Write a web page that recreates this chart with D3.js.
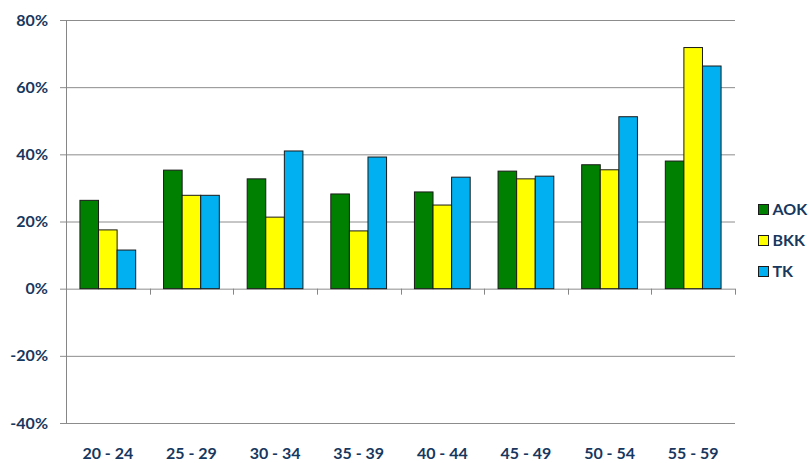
<!DOCTYPE html>
<html>
<head>
<meta charset="utf-8">
<script src="https://cdn.jsdelivr.net/npm/d3@7"></script>
<style>
  body { margin: 0; background: #fff; }
  text { font-family: Lato, "Open Sans", sans-serif; font-weight: bold; fill: #17375E; }
</style>
</head>
<body>
<svg></svg>
<script>
const categories = ["20 - 24", "25 - 29", "30 - 34", "35 - 39", "40 - 44", "45 - 49", "50 - 54", "55 - 59"]
const seriesNames = ["AOK", "BKK", "TK"]
const aok = [26.3, 35.3, 32.7, 28.2, 28.8, 35.0, 36.9, 38.0]
const bkk = [17.5, 27.8, 21.3, 17.2, 24.9, 32.7, 35.4, 71.8]
const tk = [11.5, 27.8, 41.0, 39.2, 33.2, 33.5, 51.2, 66.3]
const yTicks = [-40, -20, 0, 20, 40, 60, 80]
const colors = ["#008000", "#FFFF00", "#00B0F0"]

const width = 809
const height = 463
const svg = d3.select('svg').attr('width', width).attr('height', height)

const plotLeft = 66, plotRight = 735, plotTop = 20, plotBottom = 423

const cat = d3.scaleBand().domain(categories).range([plotLeft, plotRight])
const y = d3.scaleLinear().domain([-40, 80]).range([plotBottom, plotTop])
// 3 bars + 150% gap per category
const barW = cat.bandwidth() / 4.5

// gridlines
svg.append('g').selectAll('line').data(yTicks).enter().append('line')
  .attr('x1', plotLeft - 6).attr('x2', plotRight)
  .attr('y1', d => y(d) + 0.5).attr('y2', d => y(d) + 0.5)
  .attr('stroke', '#8c8c8c').attr('stroke-width', 1)

// y axis line
svg.append('line').attr('x1', plotLeft + 0.5).attr('x2', plotLeft + 0.5)
  .attr('y1', plotTop).attr('y2', plotBottom)
  .attr('stroke', '#868686')

// x ticks at category boundaries on the zero line
const bounds = categories.slice(1).map(c => cat(c)).concat([plotRight])
svg.append('g').selectAll('line').data(bounds).enter().append('line')
  .attr('x1', d => Math.round(d) + 0.5).attr('x2', d => Math.round(d) + 0.5)
  .attr('y1', y(0)).attr('y2', y(0) + 6)
  .attr('stroke', '#868686')

// y labels
svg.append('g').selectAll('text').data(yTicks).enter().append('text')
  .attr('x', 48).attr('y', d => y(d)).attr('dy', '0.35em')
  .attr('text-anchor', 'end').attr('font-size', 16)
  .text(d => d + '%')

// x labels
svg.append('g').selectAll('text').data(categories).enter().append('text')
  .attr('x', d => cat(d) + cat.bandwidth() / 2).attr('y', 453)
  .attr('dy', '0.35em').attr('text-anchor', 'middle').attr('font-size', 16)
  .text(d => d)

// bars
const series = [aok, bkk, tk]
series.forEach((vals, si) => {
  svg.append('g').selectAll('rect').data(vals).enter().append('rect')
    .attr('x', (d, i) => cat(categories[i]) + barW * 0.75 + barW * si)
    .attr('width', barW)
    .attr('y', d => y(Math.max(0, d)))
    .attr('height', d => Math.abs(y(d) - y(0)))
    .attr('fill', colors[si])
    .attr('stroke', '#1a1a1a').attr('stroke-width', 1)
})

// legend
const legend = svg.append('g').selectAll('g').data(seriesNames).enter().append('g')
  .attr('transform', (d, i) => `translate(758.5, ${204.5 + i * 31})`)
legend.append('rect').attr('width', 10).attr('height', 10)
  .attr('fill', (d, i) => colors[i]).attr('stroke', '#1a1a1a')
legend.append('text').attr('x', 14).attr('y', 5).attr('dy', '0.35em')
  .attr('font-size', 16).text(d => d)
</script>
</body>
</html>
